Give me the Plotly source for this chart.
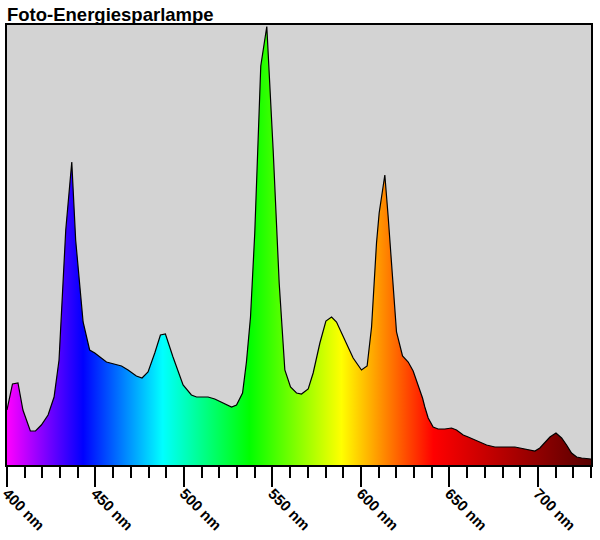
import plotly.graph_objects as go

# Wavelength (nm) and relative intensity
wavelength = [400.0, 403.1, 406.2, 409.0, 413.2, 416.1, 419.4, 423.2, 426.6, 429.4,
              433.2, 436.6, 438.8, 443.0, 446.7, 449.6, 456.2, 460.9, 464.7, 468.4,
              473.1, 476.3, 479.7, 483.5, 486.7, 489.5, 493.8, 499.5, 504.2, 507.1,
              513.6, 517.4, 523.1, 526.9, 529.7, 533.1, 535.3, 537.6, 540.0, 541.9,
              543.4, 546.8, 550.4, 553.8, 556.0, 557.0, 560.2, 563.6, 566.4, 570.2,
              573.0, 576.8, 580.2, 583.4, 586.2, 590.9, 595.6, 600.3, 603.5, 606.0,
              608.8, 610.3, 613.5, 615.4, 617.9, 620.1, 623.5, 626.7, 629.5, 632.3,
              634.8, 636.1, 638.0, 640.8, 643.6, 647.4, 651.2, 654.0, 657.8, 660.6,
              666.3, 671.0, 675.7, 680.4, 687.0, 689.8, 694.5, 698.3, 701.1, 703.9,
              706.8, 710.2, 713.4, 716.2, 719.0, 721.9, 724.7, 730.0]
intensity = [55, 81, 82, 55, 34, 34, 40, 50, 68, 105,
             235, 303, 225, 143, 115, 112, 103, 101, 99, 95,
             89, 87, 93, 112, 130, 131, 108, 80, 70, 68,
             68, 66, 61, 58, 60, 72, 103, 148, 232, 315,
             399, 438.5, 315, 182, 115, 95, 78, 72, 71, 76,
             92, 122, 144, 148, 143, 125, 107, 95, 99, 138,
             222, 252, 290, 248, 188, 133, 109, 103, 94, 80,
             67, 58, 47, 38, 36, 36, 37, 35, 30, 28,
             24, 20, 18, 18, 18, 17, 15, 14, 17, 22,
             28, 32, 27, 20, 12, 8, 7, 6]

# Spectrum colour stops (nm, colour)
color_nm = [400, 443, 488, 537, 589, 641, 730]
color_hex = ["#ff00ff", "#0000ff", "#00ffff", "#00ff00", "#ffff00", "#ff0000", "#580000"]

major_ticks = [400, 450, 500, 550, 600, 650, 700, 730]
major_labels = ["400 nm", "450 nm", "500 nm", "550 nm", "600 nm", "650 nm", "700 nm", ""]
minor_ticks = list(range(400, 731, 10))

x_min, x_max = 400, 730
colorscale = [[(nm - x_min) / (x_max - x_min), c] for nm, c in zip(color_nm, color_hex)]

FONT = "Arial, Liberation Sans, sans-serif"

fig = go.Figure()
fig.add_trace(go.Scatter(
    x=wavelength, y=intensity, mode="lines",
    line=dict(color="black", width=1.2),
    fill="tozeroy",
    fillgradient=dict(type="horizontal", colorscale=colorscale, start=x_min, stop=x_max),
    hoverinfo="skip", showlegend=False,
))

fig.update_layout(
    width=600, height=540,
    margin=dict(l=7, r=9, t=25, b=75, autoexpand=False),
    paper_bgcolor="white", plot_bgcolor="#d3d3d3",
    title=dict(text="Foto-Energiesparlampe", x=0, xref="paper", xanchor="left",
               y=1 - 14.5 / 540, yanchor="middle", yref="container",
               pad=dict(l=0, r=0, t=0, b=0),
               font=dict(family=FONT, size=18.5, color="black", weight="bold")),
    xaxis=dict(range=[x_min, x_max], tickmode="array", tickvals=major_ticks,
               ticktext=major_labels, tickangle=45, ticks="outside", ticklen=20,
               tickwidth=2, tickcolor="black", showgrid=False, zeroline=False,
               showline=True, linecolor="black", linewidth=2, mirror=True,
               automargin=False, ticklabeloverflow="allow", ticklabelstandoff=-8,
               tickfont=dict(family=FONT, size=15, color="black", weight="bold"),
               minor=dict(tickmode="array", tickvals=minor_ticks, ticks="outside",
                          ticklen=11, tickwidth=2, tickcolor="black", showgrid=False)),
    yaxis=dict(range=[0, 440], showticklabels=False, ticks="", showgrid=False,
               zeroline=False, showline=True, linecolor="black", linewidth=2,
               mirror=True, automargin=False),
)

fig.write_html("out.html", config={"displayModeBar": False},
               post_script="document.body.style.margin='0';document.body.style.padding='0';")
